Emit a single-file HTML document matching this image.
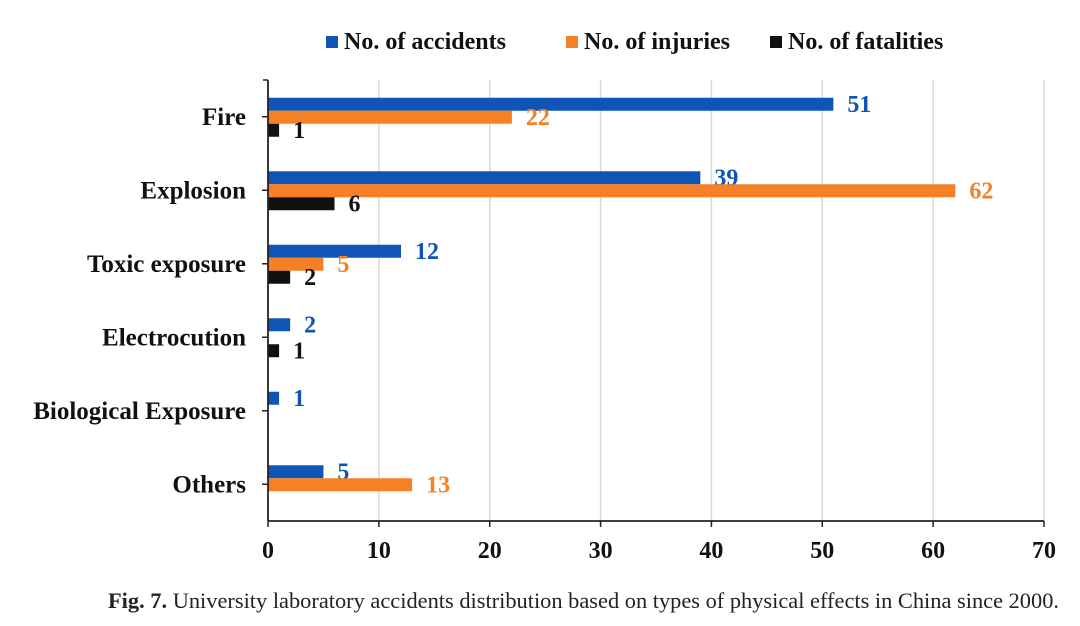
<!DOCTYPE html>
<html><head><meta charset="utf-8"><style>
body{margin:0;background:#fff;width:1080px;height:626px;overflow:hidden}
svg{display:block}
text{font-family:"Liberation Serif",serif}
</style></head><body>
<svg id="chart" width="1080" height="626">
<g id="grid"></g>
<g id="bars"></g>
<g id="axes"></g>
<g id="legend"></g>
<text x="108" y="608" font-size="22.4" fill="#222"><tspan font-weight="bold">Fig. 7.</tspan> University laboratory accidents distribution based on types of physical effects in China since 2000.</text>
</svg>
<script>
const categories=["Fire","Explosion","Toxic exposure","Electrocution","Biological Exposure","Others"];
const accidents=[51,39,12,2,1,5];
const injuries=[22,62,5,0,0,13];
const fatalities=[1,6,2,1,0,0];
const seriesNames=["No. of accidents","No. of injuries","No. of fatalities"];
const xTicks=[0,10,20,30,40,50,60,70];
const colors=["#0f55b8","#f58025","#111111"];
const NS="http://www.w3.org/2000/svg";
const x0=268,x1=1044,xMax=70,plotTop=80,plotBottom=521;
const xs=v=>x0+(v/xMax)*(x1-x0);
const band=(plotBottom-plotTop)/categories.length;
const yc=i=>plotTop+band*(i+0.5);
function mk(tag,attrs,parent,txt){const e=document.createElementNS(NS,tag);for(const k in attrs)e.setAttribute(k,attrs[k]);if(txt!=null)e.textContent=txt;parent.appendChild(e);return e;}
const grid=document.getElementById('grid'),bars=document.getElementById('bars'),axes=document.getElementById('axes'),leg=document.getElementById('legend');
xTicks.forEach(t=>{
  if(t>0){const l=mk('line',{x1:xs(t),x2:xs(t),y1:plotTop,y2:plotBottom,stroke:'#d9d9d9','stroke-width':1.5},grid);
  
  }
  const tk=mk('line',{x1:xs(t),x2:xs(t),y1:plotBottom,y2:plotBottom+6,stroke:'#222','stroke-width':1.5},axes);
  
  
  const tl=mk('text',{x:xs(t),y:plotBottom+37,'text-anchor':'middle','font-size':24,'font-weight':'bold',fill:'#111'},axes,t);
  
  
});
const ax=mk('line',{x1:x0,x2:x0,y1:plotTop,y2:plotBottom,stroke:'#222','stroke-width':1.8},axes);


const topTick=mk('line',{x1:x0-5,x2:x0,y1:plotTop,y2:plotTop,stroke:'#222','stroke-width':1.5},axes);


const xa=mk('line',{x1:x0,x2:x1,y1:plotBottom,y2:plotBottom,stroke:'#222','stroke-width':1.8},axes);


const series=[accidents,injuries,fatalities];
const bh=13;
categories.forEach((c,i)=>{
  const cl=mk('text',{x:246,y:yc(i)+8,'text-anchor':'end','font-size':25,'font-weight':'bold',fill:'#111'},axes,c);
  
  
  const ct=mk('line',{x1:x0-6,x2:x0,y1:yc(i),y2:yc(i),stroke:'#222','stroke-width':1.5},axes);
  
  
  series.forEach((s,j)=>{
    const v=s[i]; if(!v) return;
    const y=yc(i)-19+j*bh;
    const r=mk('rect',{x:x0,y:y,width:xs(v)-x0,height:bh,fill:colors[j]},bars);
    
    
    const t=mk('text',{x:xs(v)+14,y:y+bh+1,'font-size':24,'font-weight':'bold',fill:colors[j]},bars,v);
    
    
  });
});
const lx=[326,566,770];
seriesNames.forEach((n,j)=>{
  const r=mk('rect',{x:lx[j],y:36,width:12,height:12,fill:colors[j]},leg);
  
  
  const t=mk('text',{x:lx[j]+18,y:49,'font-size':24,'font-weight':'bold',fill:'#111'},leg,n);
  
  
});
</script>
</body></html>
